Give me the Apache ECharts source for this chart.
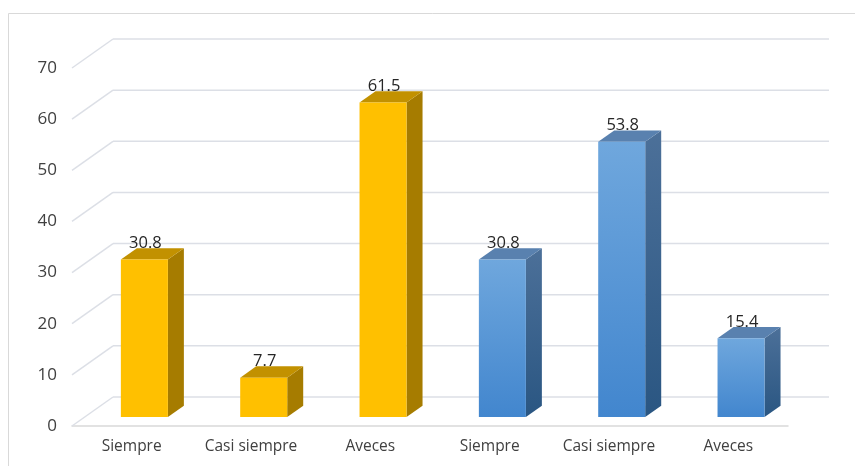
<!DOCTYPE html>
<html>
<head>
<meta charset="utf-8">
<script src="https://cdn.jsdelivr.net/npm/echarts@6/dist/echarts.min.js"></script>
<style>html,body{margin:0;padding:0;background:#fff;}#c{width:855px;height:466px;}</style>
</head>
<body>
<div id="c"></div>
<script>
const categories = ['Siempre', 'Casi siempre', 'Aveces', 'Siempre', 'Casi siempre', 'Aveces'];
const values = [30.8, 7.7, 61.5, 30.8, 53.8, 15.4];
const colorGroup = [0, 0, 0, 1, 1, 1];
const yTicks = [0, 10, 20, 30, 40, 50, 60, 70];

const WALL_DX = 41, WALL_DY = -29;
const BAR_F = 0.31, BAR_D = 0.39, BAR_W = 0.394;

const palettes = [
  { front: '#FFC000', side: '#A67C00', top: '#C29100' },
  {
    front: new echarts.graphic.LinearGradient(0, 0, 0, 1, [{offset: 0, color: '#6FA7DD'}, {offset: 1, color: '#4286CE'}]),
    side: new echarts.graphic.LinearGradient(0, 0, 0, 1, [{offset: 0, color: '#4C7099'}, {offset: 1, color: '#2A5682'}]),
    top: '#5981AF'
  }
];

const chart = echarts.init(document.getElementById('c'), null, {renderer: 'canvas'});

const gridData = yTicks.map(v => [v]);
const barData = values.map((v, i) => [i, v, colorGroup[i]]);

chart.setOption({
  animation: false,
  backgroundColor: '#ffffff',
  graphic: [{
    type: 'rect', shape: {x: 8.5, y: 13.5, width: 900, height: 500},
    style: {fill: 'none', stroke: '#D9D9D9', lineWidth: 1}, z: -10, silent: true
  }],
  grid: {left: 72, right: 67, top: 68, bottom: 40},
  xAxis: {
    type: 'category', data: categories,
    axisLine: {show: true, lineStyle: {color: '#D9D9D9', width: 1.5}},
    axisTick: {show: false},
    axisLabel: {interval: 0, hideOverlap: false, margin: 13, fontSize: 15.5, color: '#404040', fontFamily: 'Open Sans'},
    splitLine: {show: false}
  },
  yAxis: {
    type: 'value', min: 0, max: 70, interval: 10,
    axisLine: {show: false}, axisTick: {show: false},
    axisLabel: {margin: 15, fontSize: 17, color: '#404040', fontFamily: 'Open Sans'},
    splitLine: {show: false}
  },
  series: [
    {
      type: 'custom', z: 1, silent: true,
      data: gridData,
      encode: {y: 0},
      renderItem: function (params, api) {
        const cs = params.coordSys;
        const y = api.coord([0, api.value(0)])[1];
        const st = {stroke: '#DCDFE6', lineWidth: 1.5, fill: 'none'};
        return {
          type: 'group',
          children: [
            {type: 'line', shape: {x1: cs.x, y1: y, x2: cs.x + WALL_DX, y2: y + WALL_DY}, style: st},
            {type: 'line', shape: {x1: cs.x + WALL_DX, y1: y + WALL_DY, x2: cs.x + cs.width + WALL_DX, y2: y + WALL_DY}, style: st}
          ]
        };
      }
    },
    {
      type: 'custom', z: 5, silent: true,
      data: barData,
      encode: {x: 0, y: 1},
      renderItem: function (params, api) {
        const idx = api.value(0), val = api.value(1), g = api.value(2);
        const base = api.coord([idx, 0]);
        const top = api.coord([idx, val]);
        const bw = api.size([1, 0])[0] * BAR_W;
        const fx = base[0] + WALL_DX * BAR_F - bw / 2;
        const fyB = base[1] + WALL_DY * BAR_F;
        const fyT = top[1] + WALL_DY * BAR_F;
        const dx = WALL_DX * BAR_D, dy = WALL_DY * BAR_D;
        const p = palettes[g];
        const label = (Math.round(val * 10) / 10).toFixed(1);
        return {
          type: 'group',
          children: [
            {type: 'polygon', shape: {points: [[fx + bw, fyT], [fx + bw + dx, fyT + dy], [fx + bw + dx, fyB + dy], [fx + bw, fyB]]}, style: {fill: p.side}},
            {type: 'polygon', shape: {points: [[fx, fyT], [fx + dx, fyT + dy], [fx + bw + dx, fyT + dy], [fx + bw, fyT]]}, style: {fill: p.top}},
            {type: 'rect', shape: {x: fx, y: fyT, width: bw, height: fyB - fyT}, style: {fill: p.front}},
            {type: 'text', x: fx + bw / 2 + 1, y: fyT + dy + 3.5,
              style: {text: label, fill: '#262626', fontSize: 16.5, fontFamily: 'Open Sans', align: 'center', verticalAlign: 'bottom'}}
          ]
        };
      }
    }
  ]
});
</script>
</body>
</html>
